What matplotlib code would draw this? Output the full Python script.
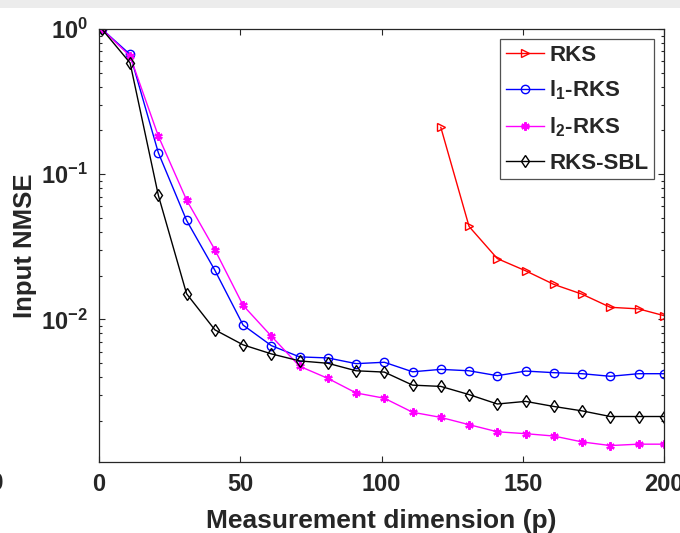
import numpy as np
import matplotlib
matplotlib.use("Agg")
import matplotlib.pyplot as plt
from matplotlib.patches import Rectangle
from matplotlib.ticker import LogLocator, NullFormatter, FixedLocator, FixedFormatter

plt.rcParams['font.family'] = ['Liberation Sans', 'DejaVu Sans']
plt.rcParams['font.weight'] = 'bold'
plt.rcParams['axes.labelweight'] = 'bold'
plt.rcParams['mathtext.fontset'] = 'custom'
plt.rcParams['mathtext.rm'] = 'Liberation Sans:bold'
plt.rcParams['mathtext.bf'] = 'Liberation Sans:bold'
plt.rcParams['mathtext.it'] = 'Liberation Sans:bold'
plt.rcParams['mathtext.default'] = 'rm'

# ---- data ----
p = [1, 11, 21, 31, 41, 51, 61, 71, 81, 91, 101, 111, 121, 131, 141, 151, 161, 171, 181, 191, 200]
p_rks = [121, 131, 141, 151, 161, 171, 181, 191, 200]
rks = [0.210, 0.0436, 0.0262, 0.0216, 0.0174, 0.0149, 0.0121, 0.0118, 0.0106]
l1_rks = [1.0, 0.668, 0.1405, 0.048, 0.0218, 0.00913, 0.00659, 0.00551, 0.00542, 0.00495,
          0.00506, 0.00435, 0.00452, 0.00442, 0.00409, 0.0044, 0.00429, 0.00422, 0.00405,
          0.00422, 0.00422]
l2_rks = [1.0, 0.65, 0.183, 0.0664, 0.0302, 0.01248, 0.00766, 0.00475, 0.00392, 0.00311,
          0.00286, 0.00229, 0.00211, 0.00188, 0.00168, 0.00163, 0.00157, 0.00143, 0.00135,
          0.00138, 0.00138]
rks_sbl = [1.0, 0.584, 0.0715, 0.0150, 0.00847, 0.00667, 0.00578, 0.00517, 0.00498, 0.00442,
           0.00433, 0.00352, 0.00345, 0.00303, 0.00261, 0.00272, 0.00251, 0.00234, 0.00214,
           0.00214, 0.00214]
labels = ['RKS', 'l$_{1}$-RKS', 'l$_{2}$-RKS', 'RKS-SBL']
xticks = [0, 50, 100, 150, 200]
yticks = [1e-2, 1e-1, 1e0]
yticklabels = ['$10^{-2}$', '$10^{-1}$', '$10^{0}$']

fig = plt.figure(figsize=(6.8, 5.33), dpi=100)
fig.patches.append(Rectangle((0, 1 - 8 / 533), 1, 8 / 533, transform=fig.transFigure,
                             facecolor='#ececec', edgecolor='none', zorder=0))

W, H = 680, 533
L, R, T, B = 99, 664, 29, 462
ax = fig.add_axes([L / W, 1 - B / H, (R - L) / W, (B - T) / H])

axc = '#262626'
lw = 1.0
ms = 6
ax.plot(p_rks, rks, color='#ff0000', marker='>', mfc='none', ms=ms, lw=lw, mew=1.0, label=labels[0])
ax.plot(p, l1_rks, color='#0000ff', marker='o', mfc='none', ms=ms, lw=lw, mew=1.0, label=labels[1])
ax.plot(p, l2_rks, color='#ff00ff', marker=(6, 2, 0), ms=ms, lw=lw, mew=1.6, label=labels[2])
ax.plot(p, rks_sbl, color='#000000', marker='d', mfc='none', ms=ms, lw=lw, mew=1.0, label=labels[3])

ax.set_yscale('log')
ax.set_xlim(0, 200)
ax.set_ylim(1.04e-3, 1.0)
ax.xaxis.set_major_locator(FixedLocator(xticks))
ax.yaxis.set_major_locator(FixedLocator(yticks))
ax.yaxis.set_major_formatter(FixedFormatter(yticklabels))
ax.yaxis.set_minor_locator(LogLocator(base=10, subs=np.arange(2, 10), numticks=20))
ax.yaxis.set_minor_formatter(NullFormatter())

ax.tick_params(which='both', direction='in', top=True, right=True, colors=axc,
               labelsize=17, width=0.8)
ax.tick_params(which='major', length=4.5, pad=8)
ax.tick_params(which='minor', length=2.5)
for lab in ax.get_xticklabels() + ax.get_yticklabels():
    lab.set_color(axc)
for s in ax.spines.values():
    s.set_color(axc)
    s.set_linewidth(0.9)

ax.set_xlabel('Measurement dimension (p)', fontsize=19, color=axc, labelpad=9)
ax.set_ylabel('Input NMSE', fontsize=18.5, color=axc, labelpad=3)

leg = ax.legend(loc='upper right', bbox_to_anchor=(654 / W, 1 - 39 / H),
                bbox_transform=fig.transFigure, fontsize=16, frameon=True, fancybox=False,
                handlelength=1.7, handletextpad=0.25, labelspacing=0.6, borderpad=0.25,
                borderaxespad=0)
leg.get_frame().set_edgecolor(axc)
leg.get_frame().set_linewidth(0.9)
for t in leg.get_texts():
    t.set_color(axc)

fig.text(4 / W, 1 - 483 / H, '200', ha='right', va='center', fontsize=17, color=axc)

fig.savefig('out.png', dpi=100)
